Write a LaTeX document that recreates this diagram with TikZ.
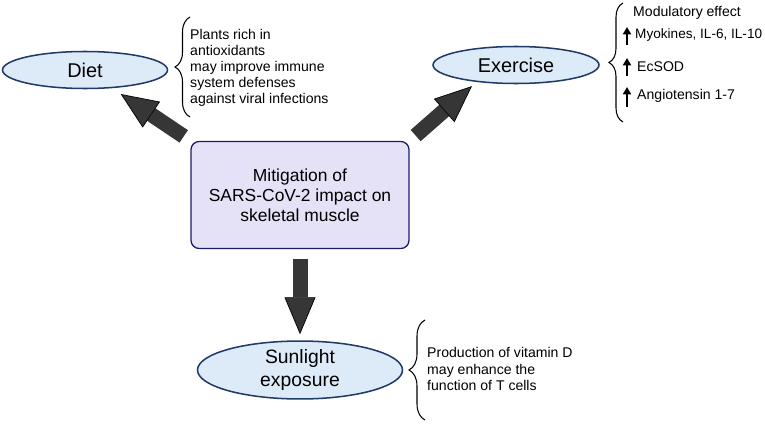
\documentclass[tikz,border=0pt]{standalone}
\usepackage{fontspec}
\setmainfont{Liberation Sans}
\usepackage{xcolor}
\usetikzlibrary{shapes.geometric,arrows.meta,positioning,calc,decorations.pathreplacing}

\definecolor{ellfill}{HTML}{DDEAF7}
\definecolor{ellline}{HTML}{1F3A66}
\definecolor{boxfill}{HTML}{E5E2F8}
\definecolor{boxline}{HTML}{1C1C6C}
\definecolor{arrgray}{HTML}{363636}

\tikzset{
    topic/.style={ellipse, draw=ellline, fill=ellfill, line width=1.3pt, inner sep=0pt,
        align=center, font=\fontsize{17}{19.6}\selectfont},
    mainbox/.style={rectangle, rounded corners=7pt, draw=boxline, fill=boxfill, line width=1.1pt,
        minimum width=6.54cm, minimum height=3.21cm, align=center,
        font=\fontsize{14.9}{17}\selectfont},
    note/.style={anchor=west, align=left, inner sep=0pt, font=\fontsize{12}{13.7}\selectfont},
    bigarrow/.style={draw=arrgray, line width=0.45cm,
        -{Triangle[length=1.11cm, width=0.93cm, line width=0.6pt, color=black, fill=arrgray]}},
    sidebrace/.style={decorate, decoration={brace, amplitude=#1}, line width=0.9pt},
    uparrow/.style={line width=1.6pt, -{Triangle[length=0.22cm, width=0.24cm]}}
}

\begin{document}
\begin{tikzpicture}[x=0.03cm, y=-0.03cm]
    \useasboundingbox (0,0) rectangle (765,424);

    % Central box
    \node[mainbox] (mitig) at (300,195) {Mitigation of\\SARS-CoV-2 impact on\\skeletal muscle};

    % Topics
    \node[topic, minimum width=4.95cm, minimum height=1.11cm] (diet) at (85,70) {Diet};
    \node[topic, minimum width=4.98cm, minimum height=1.11cm] (exer) at (516,65) {Exercise};
    \node[topic, minimum width=6.15cm, minimum height=1.65cm,
        font=\fontsize{16.5}{19.6}\selectfont] (sun) at (300,370) {Sunlight\\exposure};

    % Big arrows
    \draw[bigarrow, shorten <=0.24cm, shorten >=1.29cm] (mitig.north west) -- (diet.center);
    \draw[bigarrow, shorten <=0.24cm, shorten >=0.96cm] (mitig.north east) -- ([xshift=-0.6cm]exer.center);
    \draw[bigarrow, shorten <=0.3cm, shorten >=0.18cm] (mitig.south) -- (sun.north);

    % Diet notes
    \draw[sidebrace=0.45cm] (190,117) -- (190,17);
    \node[note] (dietnote) at (190,68) {Plants rich in\\antioxidants\\may improve immune\\system defenses\\against viral infections};

    % Exercise notes
    \draw[sidebrace=0.42cm] (623,122) -- (623,3);
    \node[note] (modul) at (633,13) {Modulatory effect};
    \node[note, font=\fontsize{11.6}{13.7}\selectfont] (myo) at (635,35) {Myokines, IL-6, IL-10};
    \node[note] (ecsod) at (637,67) {EcSOD};
    \node[note] (angio) at (637,96) {Angiotensin 1-7};
    \draw[uparrow] (627,45) -- (627,27);
    \draw[uparrow] (627,76) -- (627,58);
    \draw[uparrow] (627,107) -- (627,87);

    % Sunlight notes
    \draw[sidebrace=0.48cm] (425,420) -- (425,320);
    \node[note] (sunnote) at (427,369) {Production of vitamin D\\may enhance the\\function of T cells};
\end{tikzpicture}
\end{document}
